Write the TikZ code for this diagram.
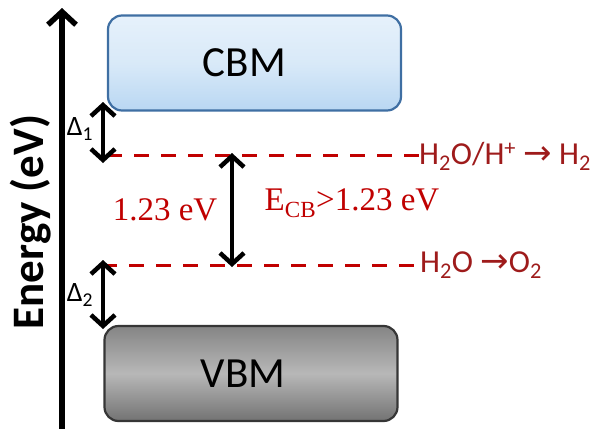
\documentclass[tikz,border=0pt]{standalone}
\usepackage{fontspec}
\setmainfont{Liberation Serif}
\newfontfamily\calibri{Carlito}
\newfontfamily\arrowfont{DejaVu Sans}
\usetikzlibrary{positioning,arrows.meta}
\definecolor{levelred}{HTML}{C00000}
\definecolor{labelred}{HTML}{9E1B1B}
\definecolor{cbmedge}{HTML}{3F6FA3}
\definecolor{vbmedge}{HTML}{363636}
\definecolor{cbmtop}{HTML}{E6F1FB}
\definecolor{cbmbot}{HTML}{B9D7F2}

\begin{document}
\begin{tikzpicture}[x=1pt, y=-1pt,
    band/.style={rounded corners=14pt, line width=2.2pt, minimum width=293pt, minimum height=95pt,
        font=\calibri\fontsize{43}{46}\selectfont},
    cbmbox/.style={band, draw=cbmedge, top color=cbmtop, bottom color=cbmbot, middle color=cbmtop!70!cbmbot},
    vbmbox/.style={band, draw=vbmedge, top color=black!48, bottom color=black!55, middle color=black!28},
    level/.style={levelred, line width=3pt, dash pattern=on 15pt off 12pt},
    gap/.style={line width=4.5pt, {Straight Barb[length=11pt,width=24pt]}-{Straight Barb[length=11pt,width=24pt]}},
    redox/.style={labelred, anchor=west, inner sep=0pt, font=\calibri\fontsize{32}{34}\selectfont},
    evtext/.style={levelred, font=\fontsize{33}{36}\selectfont},
    deltatext/.style={font=\calibri\fontsize{28}{30}\selectfont, inner sep=0pt}]
    \useasboundingbox (0,0) rectangle (598,429);
    % energy axis
    \coordinate (axbot) at (62,429);
    \coordinate (axtop) at (62,8);
    \draw[line width=5.5pt, -{Straight Barb[length=13pt,width=28pt]}] (axbot) -- (axtop);
    \node[rotate=90, font=\calibri\bfseries\fontsize{45}{48}\selectfont] (energy) at (31,222) {Energy (eV)};
    % band edges
    \node[cbmbox] (cbm) at (254.5,63) {\hspace*{-20pt}CBM};
    \node[vbmbox] (vbm) at (251,373.5) {\hspace*{-16pt}VBM};
    % redox levels
    \node[redox] (hred) at (419,156) {H\textsubscript{2}O/H\textsuperscript{+} {\arrowfont\fontsize{34}{34}\selectfont →} H\textsubscript{2}};
    \node[redox] (oxd) at (420,265) {H\textsubscript{2}O {\arrowfont\fontsize{34}{34}\selectfont →}O\textsubscript{2}};
    \coordinate (hstart) at (107,155);
    \coordinate (ostart) at (102,265);
    \draw[level] (hstart) -- (hred.west |- hstart);
    \draw[level] (ostart) -- (oxd.west |- ostart);
    % gaps
    \coordinate (d1top) at (103,102);
    \coordinate (d1bot) at (103,163);
    \coordinate (d2top) at (103,260);
    \coordinate (d2bot) at (103,329);
    \coordinate (midtop) at (232,153);
    \coordinate (midbot) at (232,267);
    \draw[gap] (d1top) -- (d1bot);
    \draw[gap] (d2top) -- (d2bot);
    \draw[gap] (midtop) -- (midbot);
    \node[deltatext] (delta1) at (80,129) {Δ\textsubscript{1}};
    \node[deltatext] (delta2) at (80,295) {Δ\textsubscript{2}};
    \node[evtext] (ev) at (165,210) {1.23 eV};
    \node[evtext] (ecb) at (352,203) {E\textsubscript{CB}>1.23 eV};
\end{tikzpicture}
\end{document}
